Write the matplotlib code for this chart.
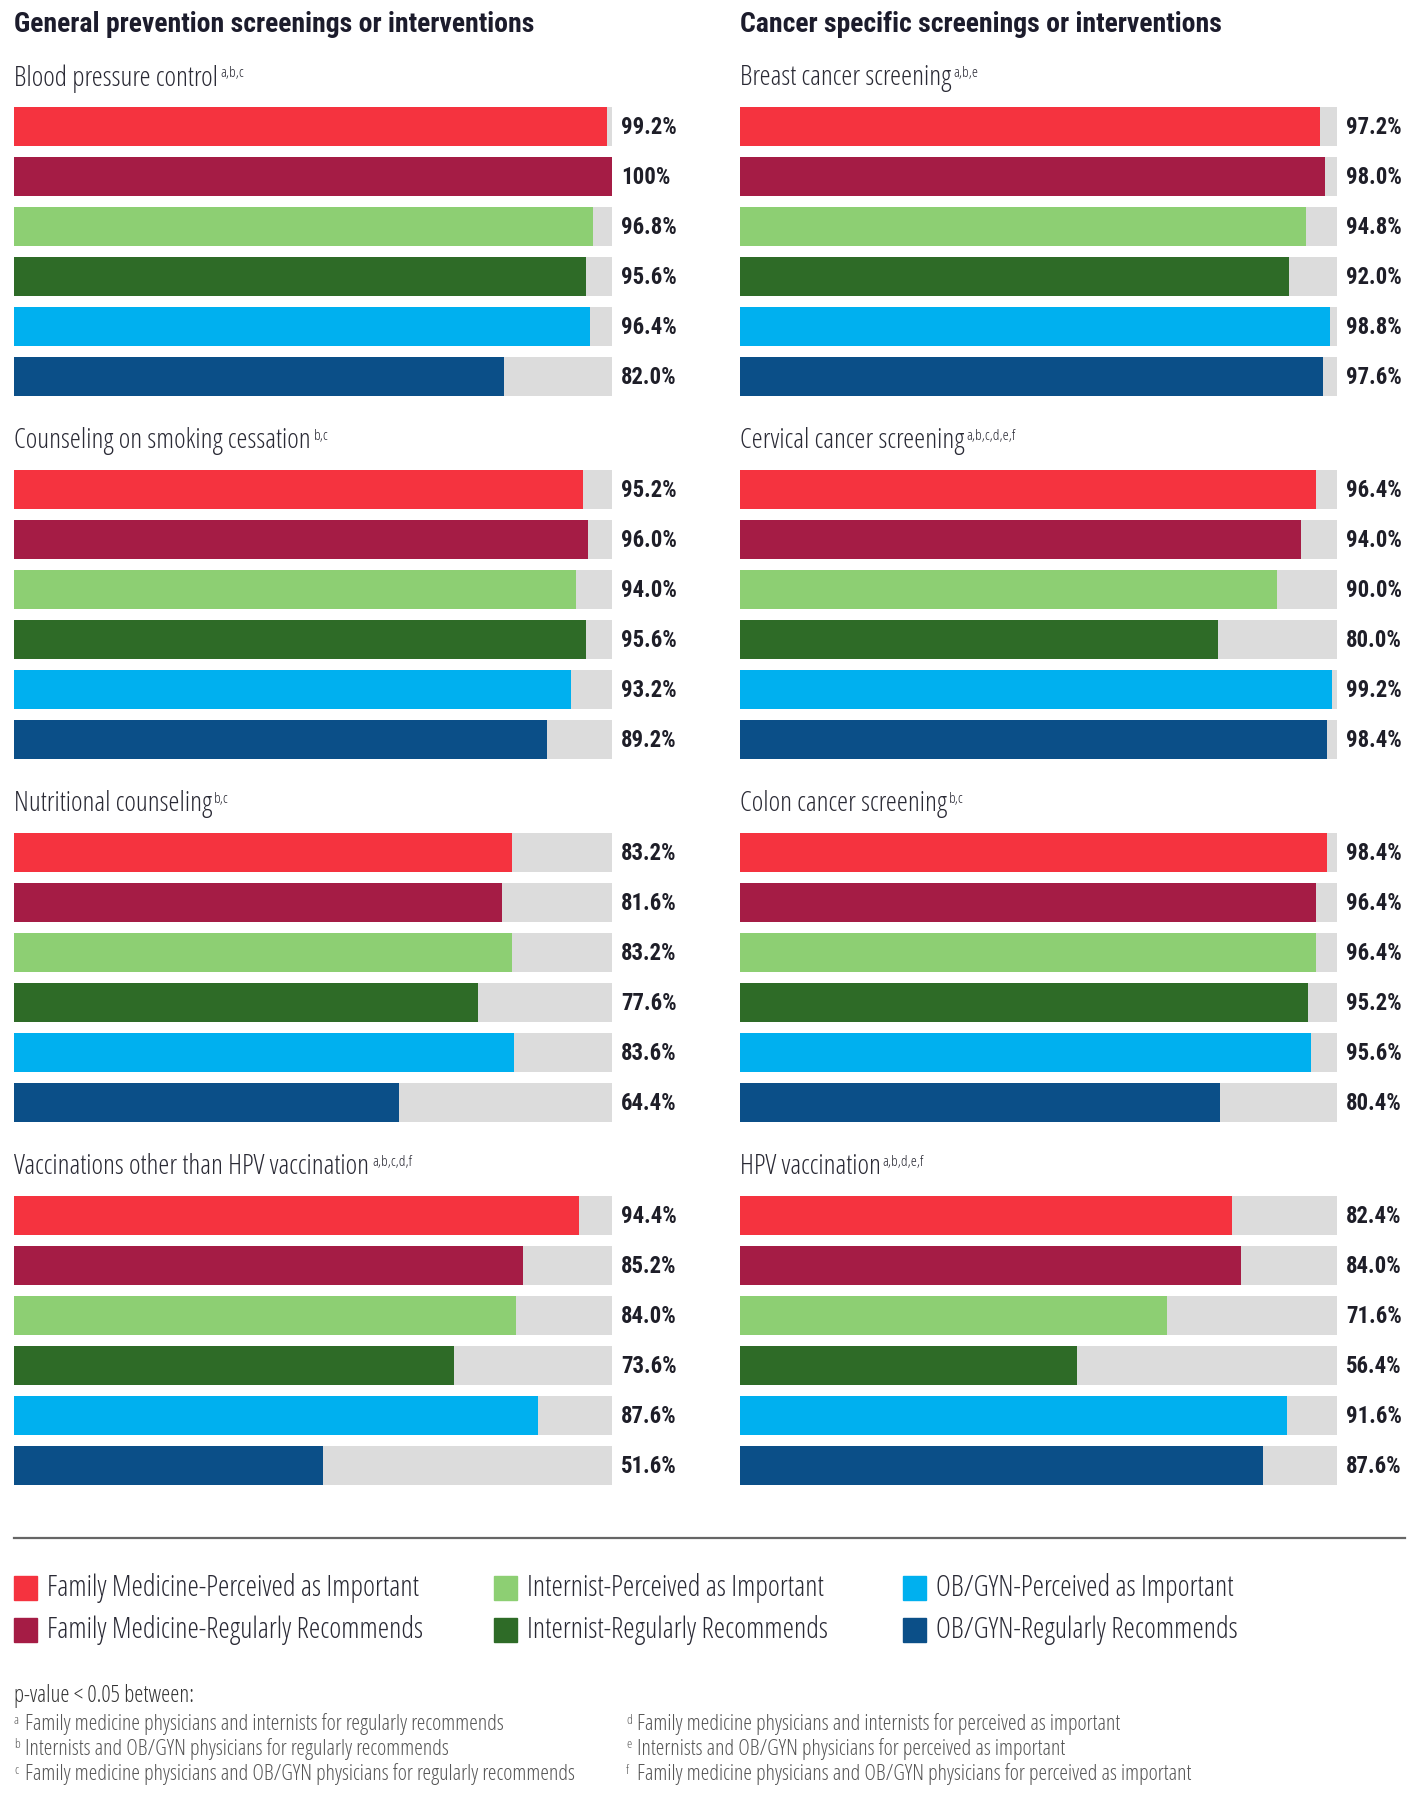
import matplotlib.pyplot as plt
from matplotlib.patches import Rectangle

plt.rcParams['font.family'] = ['Open Sans', 'DejaVu Sans']
plt.rcParams['font.stretch'] = 'condensed'
BOLD = ['Roboto Condensed', 'Fira Sans Condensed', 'DejaVu Sans']

W, H = 1419, 1800

# series (same order in every panel)
series = ['Family Medicine-Perceived as Important',
          'Family Medicine-Regularly Recommends',
          'Internist-Perceived as Important',
          'Internist-Regularly Recommends',
          'OB/GYN-Perceived as Important',
          'OB/GYN-Regularly Recommends']
colors = ['#F5333F', '#A51C45', '#8DCF73', '#2E6B27', '#00B0EF', '#0B4F88']

left_title = 'General prevention screenings or interventions'
right_title = 'Cancer specific screenings or interventions'

left_items = ['Blood pressure control', 'Counseling on smoking cessation',
              'Nutritional counseling', 'Vaccinations other than HPV vaccination']
left_sups = ['a,b,c', 'b,c', 'b,c', 'a,b,c,d,f']
right_items = ['Breast cancer screening', 'Cervical cancer screening',
               'Colon cancer screening', 'HPV vaccination']
right_sups = ['a,b,e', 'a,b,c,d,e,f', 'b,c', 'a,b,d,e,f']

blood_pressure = [99.2, 100, 96.8, 95.6, 96.4, 82.0]
smoking = [95.2, 96.0, 94.0, 95.6, 93.2, 89.2]
nutrition = [83.2, 81.6, 83.2, 77.6, 83.6, 64.4]
vaccinations = [94.4, 85.2, 84.0, 73.6, 87.6, 51.6]
breast = [97.2, 98.0, 94.8, 92.0, 98.8, 97.6]
cervical = [96.4, 94.0, 90.0, 80.0, 99.2, 98.4]
colon = [98.4, 96.4, 96.4, 95.2, 95.6, 80.4]
hpv = [82.4, 84.0, 71.6, 56.4, 91.6, 87.6]

left_vals = [blood_pressure, smoking, nutrition, vaccinations]
right_vals = [breast, cervical, colon, hpv]

foot_head = 'p-value < 0.05 between:'
foot_letters = ['a', 'b', 'c', 'd', 'e', 'f']
foot_texts = ['Family medicine physicians and internists for regularly recommends',
              'Internists and OB/GYN physicians for regularly recommends',
              'Family medicine physicians and OB/GYN physicians for regularly recommends',
              'Family medicine physicians and internists for perceived as important',
              'Internists and OB/GYN physicians for perceived as important',
              'Family medicine physicians and OB/GYN physicians for perceived as important']

fig = plt.figure(figsize=(W / 100, H / 100), dpi=100)
fig.patch.set_facecolor('white')
renderer = fig.canvas.get_renderer()

TXT = '#2a2a35'


def fx(x):
    return x / W


def fy(y):
    return 1 - y / H


def fit_size(text, target, bold=False, base=20):
    # font size that gives the text the width it has in the reference
    kw = dict(family=BOLD, weight='bold') if bold else {}
    t = fig.text(0, 0, text, fontsize=base, **kw)
    w = t.get_window_extent(renderer).width
    t.remove()
    return base * target / w


size_head = fit_size(left_title, 521, bold=True)
size_sub = fit_size('Blood pressure control', 204)
size_val = fit_size('99.2%', 56, bold=True)
size_leg = fit_size(series[0], 371)
size_fhead = fit_size(foot_head, 179)
size_foot = fit_size(foot_texts[0], 480)


def label_with_sup(x, y, text, sup, size):
    t = fig.text(fx(x), fy(y), text, fontsize=size, color=TXT,
                 va='center', ha='left')
    fig.texts.append(plt.annotate(sup, xy=(1.01, 0.93), xycoords=t,
                                  fontsize=size * 0.55, color=TXT,
                                  va='top', ha='left', annotation_clip=False))
    fig.texts.pop()
    return t


def panel(x0, x1, items, sups, vals):
    for g, (name, sup, v) in enumerate(zip(items, sups, vals)):
        c0 = 126.3 + 363 * g
        top = c0 - 25
        ax = fig.add_axes([fx(x0), fy(top + 300), fx(x1 - x0), 300 / H])
        ypos = range(len(v))
        ax.barh(ypos, [100] * len(v), height=0.78, color='#DCDCDC')
        ax.barh(ypos, v, height=0.78, color=colors)
        for i, val in enumerate(v):
            lab = '100%' if val == 100 else f'{val:.1f}%'
            ax.annotate(lab, xy=(100, i), xytext=(6.5, -1), textcoords='offset points',
                        va='center', ha='left', fontsize=size_val, family=BOLD,
                        weight='bold', color='#1e1e28', annotation_clip=False)
        ax.set_xlim(0, 100)
        ax.set_ylim(5.5, -0.5)
        ax.axis('off')
        label_with_sup(x0, c0 - 48, name, sup, size_sub)


# headers
fig.text(fx(14), fy(25), left_title, fontsize=size_head, family=BOLD, weight='bold',
         color='#1c1c2c', va='center', ha='left')
fig.text(fx(740), fy(25), right_title, fontsize=size_head, family=BOLD, weight='bold',
         color='#1c1c2c', va='center', ha='left')

panel(14, 612, left_items, left_sups, left_vals)
panel(740, 1337, right_items, right_sups, right_vals)

# separator
fig.add_artist(plt.Line2D([fx(14), fx(1405)], [fy(1538), fy(1538)],
                          color='#666666', lw=1.6))

# legend
col_x = [14, 494, 903]
row_y = [1588, 1630]
for k, (name, col) in enumerate(zip(series, colors)):
    x = col_x[k // 2]
    y = row_y[k % 2]
    fig.add_artist(Rectangle((fx(x), fy(y + 12)), fx(23), 24 / H, color=col,
                             transform=fig.transFigure))
    fig.text(fx(x + 33), fy(y), name, fontsize=size_leg, color=TXT,
             va='center', ha='left')

# footnotes
fig.text(fx(14), fy(1696), foot_head, fontsize=size_fhead, color='#333333',
         va='center', ha='left')
for k, (let, txt) in enumerate(zip(foot_letters, foot_texts)):
    x = 14 if k < 3 else 626
    y = [1724, 1749, 1774][k % 3]
    fig.text(fx(x), fy(y - 4), let, fontsize=size_foot * 0.6, color='#555555',
             va='center', ha='left')
    fig.text(fx(x + 11), fy(y), txt, fontsize=size_foot, color='#555555',
             va='center', ha='left')

fig.savefig('out.png', dpi=100)
